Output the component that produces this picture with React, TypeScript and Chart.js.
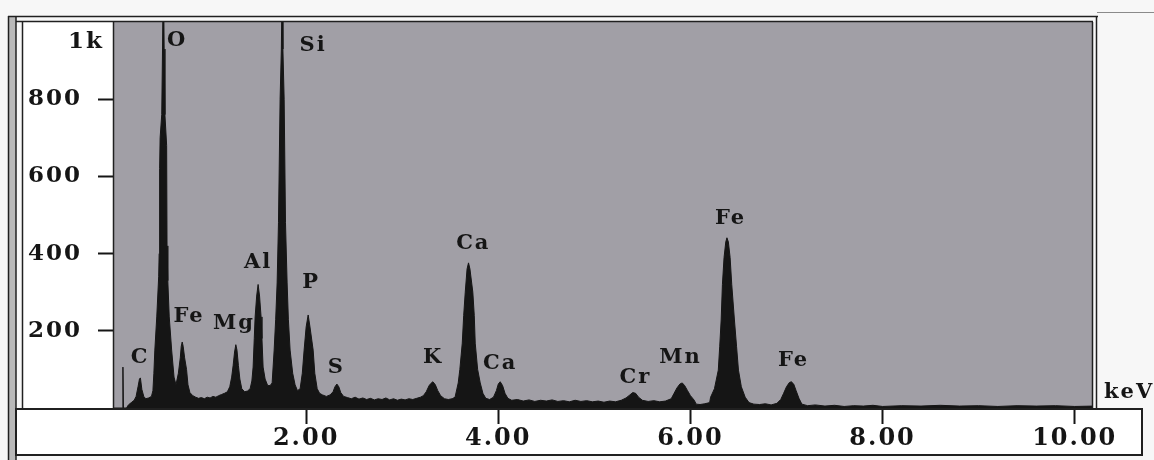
import { useEffect, useRef } from 'react';
import { Chart, registerables } from 'chart.js';

Chart.register(...registerables);

// ---------- data ----------
const energyKeV = [
  0.0, 0.088, 0.093, 0.098, 0.13, 0.15, 0.18, 0.21, 0.23, 0.25, 0.265, 0.275, 0.29, 0.31, 0.33, 0.36, 0.39,
  0.405, 0.415, 0.425, 0.445, 0.465, 0.47, 0.475, 0.48, 0.497, 0.505, 0.514, 0.522, 0.53, 0.548, 0.552, 0.56,
  0.575, 0.6, 0.625, 0.645, 0.67, 0.69, 0.7, 0.71, 0.72, 0.735, 0.755, 0.77, 0.79, 0.82,
  0.85, 0.88, 0.91, 0.94, 0.97, 1.0, 1.03, 1.06, 1.09, 1.12, 1.15,
  1.18, 1.205, 1.225, 1.24, 1.255, 1.268, 1.28, 1.295, 1.31, 1.33, 1.36, 1.39,
  1.417, 1.435, 1.448, 1.46, 1.469, 1.485, 1.5, 1.515, 1.531, 1.54, 1.552, 1.573, 1.6,
  1.625, 1.646, 1.667, 1.683, 1.698, 1.712, 1.729, 1.742, 1.75, 1.758, 1.771, 1.785, 1.802, 1.815, 1.833, 1.86, 1.885, 1.91,
  1.9375, 1.96, 1.979, 2.0, 2.021, 2.04, 2.073, 2.09, 2.115, 2.14,
  2.17, 2.21, 2.25, 2.28, 2.3, 2.32, 2.34, 2.36, 2.39,
  2.43, 2.47, 2.51, 2.55, 2.59, 2.63, 2.67, 2.71, 2.75, 2.79, 2.83, 2.87, 2.91, 2.95, 2.99, 3.03, 3.07, 3.11, 3.15, 3.19,
  3.22, 3.25, 3.28, 3.3, 3.32, 3.345, 3.37, 3.4, 3.44, 3.48, 3.52,
  3.55, 3.583, 3.6, 3.625, 3.64, 3.656, 3.675, 3.69, 3.705, 3.735, 3.75, 3.76, 3.785, 3.812, 3.84, 3.87, 3.91,
  3.95, 3.98, 4.0, 4.02, 4.045, 4.07, 4.1, 4.14,
  4.2, 4.26, 4.32, 4.38, 4.44, 4.5, 4.56, 4.62, 4.68, 4.74, 4.8, 4.86, 4.92, 4.98, 5.04, 5.1, 5.16, 5.22, 5.28,
  5.33, 5.37, 5.4, 5.43, 5.46, 5.5, 5.56, 5.62, 5.68, 5.74,
  5.8, 5.83, 5.86, 5.89, 5.915, 5.94, 5.97, 6.0, 6.04, 6.06, 6.1, 6.15, 6.2,
  6.21, 6.25, 6.29, 6.305, 6.32, 6.333, 6.35, 6.368, 6.38, 6.395, 6.413, 6.43, 6.458, 6.48, 6.5, 6.53, 6.57, 6.61, 6.66,
  6.72, 6.78, 6.84, 6.9, 6.94, 6.97, 7.0, 7.03, 7.05, 7.075, 7.1, 7.13, 7.16,
  7.22, 7.3, 7.4, 7.5, 7.6, 7.7, 7.8, 7.9, 8.0, 8.2, 8.4, 8.6, 8.8, 9.0, 9.2, 9.4, 9.6, 9.8, 10.0, 10.2,
];

const counts = [
  0, 0, 106, 0, 0, 8, 14, 20, 30, 55, 75, 78, 48, 30, 24, 26, 30,
  45, 90, 150, 236, 340, 400, 620, 700, 760, 930, 1150, 930, 760, 680, 420, 330,
  236, 150, 80, 60, 90, 130, 160, 171, 160, 130, 100, 60, 40, 32,
  28, 25, 27, 24, 28, 26, 30, 28, 32, 35, 38,
  42, 55, 80, 110, 145, 164, 150, 110, 75, 50, 42, 44,
  50, 70, 106, 180, 236, 290, 320, 290, 236, 180, 106, 75, 58,
  58, 65, 150, 230, 324, 480, 800, 930, 1100, 930, 800, 480, 324, 230, 150, 90, 60, 45,
  50, 90, 150, 210, 241, 210, 150, 90, 50, 38,
  34, 30, 34, 42, 55, 62, 55, 40, 30,
  27, 24, 28, 23, 26, 22, 25, 21, 24, 22, 26, 21, 24, 20, 23, 21, 24, 22, 25, 28,
  32, 42, 58, 64, 68, 60, 45, 32, 24, 22, 24,
  28, 65, 100, 168, 240, 300, 360, 376, 360, 300, 240, 168, 100, 65, 38, 25, 22,
  28, 45, 62, 68, 58, 38, 25, 20,
  22, 18, 21, 17, 20, 18, 21, 17, 19, 16, 20, 17, 19, 16, 18, 15, 18, 16, 20,
  26, 34, 40, 38, 28, 20, 17, 19, 16, 18,
  24, 38, 52, 62, 65, 58, 45, 32, 20, 10, 9, 11, 14,
  28, 50, 98, 160, 228, 320, 390, 430, 441, 430, 390, 320, 228, 160, 98, 55, 28, 14, 10,
  9, 11, 8, 12, 22, 38, 55, 66, 68, 62, 45, 25, 10,
  6, 8, 5, 7, 4, 6, 5, 7, 4, 6, 5, 7, 5, 6, 4, 6, 5, 6, 4, 5,
];

const xTickValues = [2, 4, 6, 8, 10];
const yTickValues = [200, 400, 600, 800];
const yTopLabel = '1k';
const yMax = 1000;
const xMax = 10.18;
const axisUnit = 'keV';

const peakNames = ['C', 'O', 'Fe', 'Mg', 'Al', 'Si', 'P', 'S', 'K', 'Ca', 'Ca', 'Cr', 'Mn', 'Fe', 'Fe'];
const peakLabelKeV = [0.271, 0.656, 0.781, 1.25, 1.5, 2.073, 2.052, 2.313, 3.323, 3.74, 4.02, 5.427, 5.896, 6.417, 7.073];
const peakLabelCounts = [132, 953, 236, 220, 378, 938, 324, 106, 130, 427, 114, 80, 132, 492, 122];

// ---------- styling ----------
const W = 1154;
const H = 460;
const FONT = '"DejaVu Serif", serif';
const INK = '#151515';
const PLOT_GRAY = '#a19fa6';

const noScalePadding = (s: any) => {
  s.paddingTop = 0;
  s.paddingBottom = 0;
  s.paddingLeft = 0;
  s.paddingRight = 0;
};

const framePlugin = {
  id: 'frame',
  beforeLayout(chart: any) {
    chart.ctx.letterSpacing = '2px';
  },
  beforeDraw(chart: any) {
    const ctx = chart.ctx as CanvasRenderingContext2D;
    const { left, top, right, bottom } = chart.chartArea;
    ctx.save();
    ctx.fillStyle = '#f7f7f7';
    ctx.fillRect(0, 0, W, H);
    // left gray strip
    ctx.fillStyle = '#b9b9b9';
    ctx.fillRect(9, 16, 7, H - 16);
    // y panel
    ctx.fillStyle = '#ffffff';
    ctx.fillRect(22, top, left - 22, bottom - top);
    // x panel
    ctx.fillRect(16, bottom, 1142 - 16, 456 - bottom);
    // plot
    ctx.fillStyle = PLOT_GRAY;
    ctx.fillRect(left, top, right - left, bottom - top);
    ctx.restore();
    ctx.letterSpacing = '2px';
  },
  afterDatasetsDraw(chart: any) {
    const ctx = chart.ctx as CanvasRenderingContext2D;
    const xs = chart.scales.x;
    const ys = chart.scales.y;
    ctx.save();
    ctx.letterSpacing = '2px';
    ctx.fillStyle = INK;
    ctx.font = `bold 21px ${FONT}`;
    ctx.textAlign = 'center';
    ctx.textBaseline = 'middle';
    peakNames.forEach((n, i) => {
      ctx.fillText(n, xs.getPixelForValue(peakLabelKeV[i]), ys.getPixelForValue(peakLabelCounts[i]));
    });
    ctx.restore();
  },
  afterDraw(chart: any) {
    const ctx = chart.ctx as CanvasRenderingContext2D;
    const { left, top, right, bottom } = chart.chartArea;
    const ys = chart.scales.y;
    ctx.save();
    ctx.strokeStyle = '#202020';
    ctx.lineWidth = 1.5;
    const line = (x1: number, y1: number, x2: number, y2: number) => {
      ctx.beginPath();
      ctx.moveTo(x1, y1);
      ctx.lineTo(x2, y2);
      ctx.stroke();
    };
    // outer double frame
    line(8.5, 16, 8.5, H);
    line(16, 16, 16, H);
    line(8, 16.5, right + 6, 16.5);
    line(16, top - 0.5, right + 1, top - 0.5);
    line(22.5, top, 22.5, bottom);
    line(left - 0.5, top, left - 0.5, bottom);
    line(right + 0.5, top, right + 0.5, bottom);
    line(right + 4.5, 16, right + 4.5, bottom);
    // x panel
    ctx.lineWidth = 2;
    ctx.strokeRect(16, bottom + 1, 1142 - 16, 455 - bottom - 1);
    ctx.lineWidth = 1;
    ctx.strokeStyle = '#8a8a8a';
    line(right + 5, 12.5, W, 12.5);
    // 1k label and unit
    ctx.letterSpacing = '2px';
    ctx.fillStyle = INK;
    ctx.font = `bold 23px ${FONT}`;
    ctx.textAlign = 'right';
    ctx.textBaseline = 'middle';
    ctx.fillText(yTopLabel, left - 10, ys.getPixelForValue(yMax) + 20);
    ctx.font = `bold 21px ${FONT}`;
    ctx.textAlign = 'left';
    ctx.fillText(axisUnit, right + 12, bottom - 15);
    ctx.restore();
  },
};

export default function App() {
  const ref = useRef<HTMLCanvasElement | null>(null);
  useEffect(() => {
    document.body.style.margin = '0';
    const canvas = ref.current!;
    const chart = new Chart(canvas, {
      type: 'line',
      data: {
        datasets: [
          {
            data: energyKeV.map((x, i) => ({ x, y: counts[i] })),
            borderColor: INK,
            backgroundColor: INK,
            borderWidth: 1,
            pointRadius: 0,
            fill: 'origin',
            tension: 0,
          },
        ],
      },
      options: {
        animation: false,
        responsive: false,
        events: [],
        layout: { padding: { left: 22, top: 22, right: W - 1092, bottom: 5 } },
        plugins: { legend: { display: false }, tooltip: { enabled: false } },
        scales: {
          x: {
            type: 'linear',
            min: 0,
            max: xMax,
            afterBuildTicks: (s: any) => {
              s.ticks = xTickValues.map((v) => ({ value: v }));
            },
            afterFit: (s: any) => {
              s.height = 47;
              noScalePadding(s);
            },
            ticks: {
              autoSkip: false,
              maxRotation: 0,
              padding: 0,
              color: INK,
              font: { family: FONT, size: 24, weight: 'bold' },
              callback: (v: any) => Number(v).toFixed(2),
            },
            grid: { drawOnChartArea: false, tickLength: 16, tickWidth: 2, tickColor: INK },
            border: { display: false },
          },
          y: {
            min: 0,
            max: yMax,
            afterBuildTicks: (s: any) => {
              s.ticks = yTickValues.map((v) => ({ value: v }));
            },
            afterFit: (s: any) => {
              s.width = 92;
              noScalePadding(s);
            },
            ticks: {
              padding: 16,
              color: INK,
              font: { family: FONT, size: 23, weight: 'bold' },
              callback: (v: any) => String(v),
            },
            grid: { drawOnChartArea: false, tickLength: 16, tickWidth: 2, tickColor: INK },
            border: { display: false },
          },
        },
      },
      plugins: [framePlugin],
    } as any);
    return () => chart.destroy();
  }, []);
  return <canvas ref={ref} width={W} height={H} style={{ display: 'block' }} />;
}
